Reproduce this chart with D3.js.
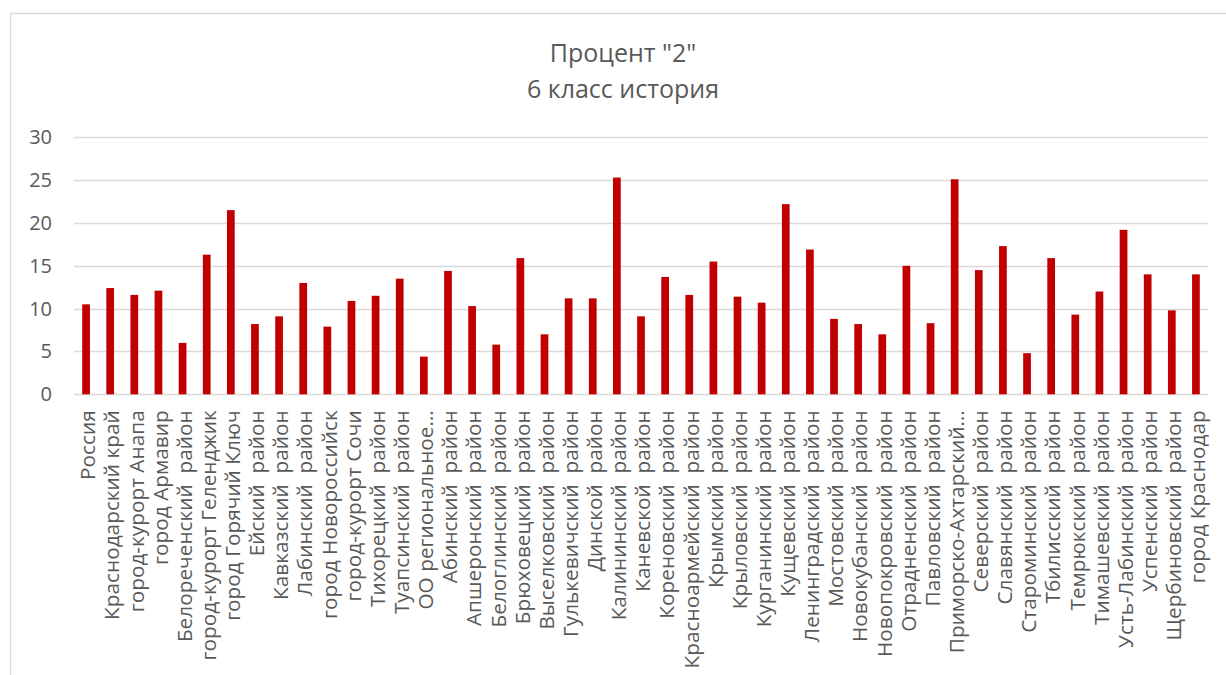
<!DOCTYPE html>
<html>
<head>
<meta charset="utf-8">
<script src="https://cdn.jsdelivr.net/npm/d3@7"></script>
<style>
    body { margin: 0; background: #ffffff; }
    text { font-family: "Open Sans", sans-serif; fill: #595959; }
</style>
</head>
<body>
<div id="chart"></div>
<script>
var title_lines = ['Процент "2"', '6 класс история'];

var categories = [
    "Россия", "Краснодарский край", "город-курорт Анапа", "город Армавир",
    "Белореченский  район", "город-курорт Геленджик", "город Горячий Ключ",
    "Ейский  район", "Кавказский  район", "Лабинский  район", "город Новороссийск",
    "город-курорт Сочи", "Тихорецкий  район", "Туапсинский  район", "ОО региональное…",
    "Абинский  район", "Апшеронский  район", "Белоглинский  район", "Брюховецкий  район",
    "Выселковский  район", "Гулькевичский  район", "Динской  район", "Калининский  район",
    "Каневской  район", "Кореновский  район", "Красноармейский  район", "Крымский  район",
    "Крыловский  район", "Курганинский  район", "Кущевский  район", "Ленинградский  район",
    "Мостовский  район", "Новокубанский  район", "Новопокровский  район",
    "Отрадненский  район", "Павловский  район", "Приморско-Ахтарский…", "Северский  район",
    "Славянский  район", "Староминский  район", "Тбилисский  район", "Темрюкский  район",
    "Тимашевский  район", "Усть-Лабинский  район", "Успенский  район",
    "Щербиновский  район", "город Краснодар"
];

var values = [
    10.5, 12.4, 11.6, 12.1, 6.0, 16.3, 21.5, 8.2, 9.1, 13.0, 7.9,
    10.9, 11.5, 13.5, 4.4, 14.4, 10.3, 5.8, 15.9, 7.0, 11.2, 11.2, 25.3,
    9.1, 13.7, 11.6, 15.5, 11.4, 10.7, 22.2, 16.9, 8.8, 8.2, 7.0,
    15.0, 8.3, 25.1, 14.5, 17.3, 4.8, 15.9, 9.3, 12.0, 19.2, 14.0,
    9.8, 14.0
];

var y_ticks = [0, 5, 10, 15, 20, 25, 30];

var width = 1226;
var height = 675;

var svg = d3.select("#chart").append("svg")
            .attr("width", width)
            .attr("height", height);

// chart frame (clipped at right/bottom like the original screenshot)
svg.append("rect")
   .attr("x", 10.5)
   .attr("y", 13.5)
   .attr("width", 1240)
   .attr("height", 700)
   .attr("fill", "none")
   .attr("stroke", "#d9d9d9")
   .attr("stroke-width", 1.5);

var x = d3.scaleBand()
          .domain(categories)
          .range([74, 1208])
          .paddingInner(0.68)
          .paddingOuter(0.34);

var y = d3.scaleLinear()
          .domain([0, 30])
          .range([394.3, 137.3]);

// gridlines
svg.append("g")
   .selectAll("line")
   .data(y_ticks)
   .enter().append("line")
   .attr("x1", 74)
   .attr("x2", 1208)
   .attr("y1", function (d) { return Math.round(y(d)) + 0.5; })
   .attr("y2", function (d) { return Math.round(y(d)) + 0.5; })
   .attr("stroke", "#d9d9d9")
   .attr("stroke-width", 1.3);

// y axis labels
var y_axis = d3.axisLeft(y).tickValues(y_ticks).tickSize(0).tickPadding(0);
var y_axis_group = svg.append("g")
                      .attr("transform", "translate(52,0)")
                      .call(y_axis);
y_axis_group.select(".domain").remove();
y_axis_group.selectAll("text")
            .attr("font-size", 20)
            .attr("font-family", "'Open Sans', sans-serif")
            .attr("fill", "#595959");

// bars
svg.append("g")
   .selectAll("rect")
   .data(values)
   .enter().append("rect")
   .attr("x", function (d, i) { return x(categories[i]); })
   .attr("y", function (d) { return y(d); })
   .attr("width", x.bandwidth())
   .attr("height", function (d) { return y(0) - y(d); })
   .attr("fill", "#c00000");

// x axis labels
var x_axis = d3.axisBottom(x).tickSize(0).tickPadding(0);
var x_axis_group = svg.append("g")
                      .attr("transform", "translate(0," + y(0) + ")")
                      .call(x_axis);
x_axis_group.select(".domain").remove();
x_axis_group.selectAll("text")
            .attr("font-size", 20.8)
            .attr("font-family", "'Open Sans', sans-serif")
            .attr("fill", "#595959")
            .attr("text-anchor", "end")
            .attr("transform", "translate(2,16) rotate(-90)")
            .attr("x", 0)
            .attr("y", 0)
            .attr("dy", "0.35em")
            .style("white-space", "pre");

// title
svg.append("g")
   .selectAll("text")
   .data(title_lines)
   .enter().append("text")
   .attr("x", 623)
   .attr("y", function (d, i) { return 61.5 + i * 36; })
   .attr("text-anchor", "middle")
   .attr("font-size", 25)
   .text(function (d) { return d; });
</script>
</body>
</html>
